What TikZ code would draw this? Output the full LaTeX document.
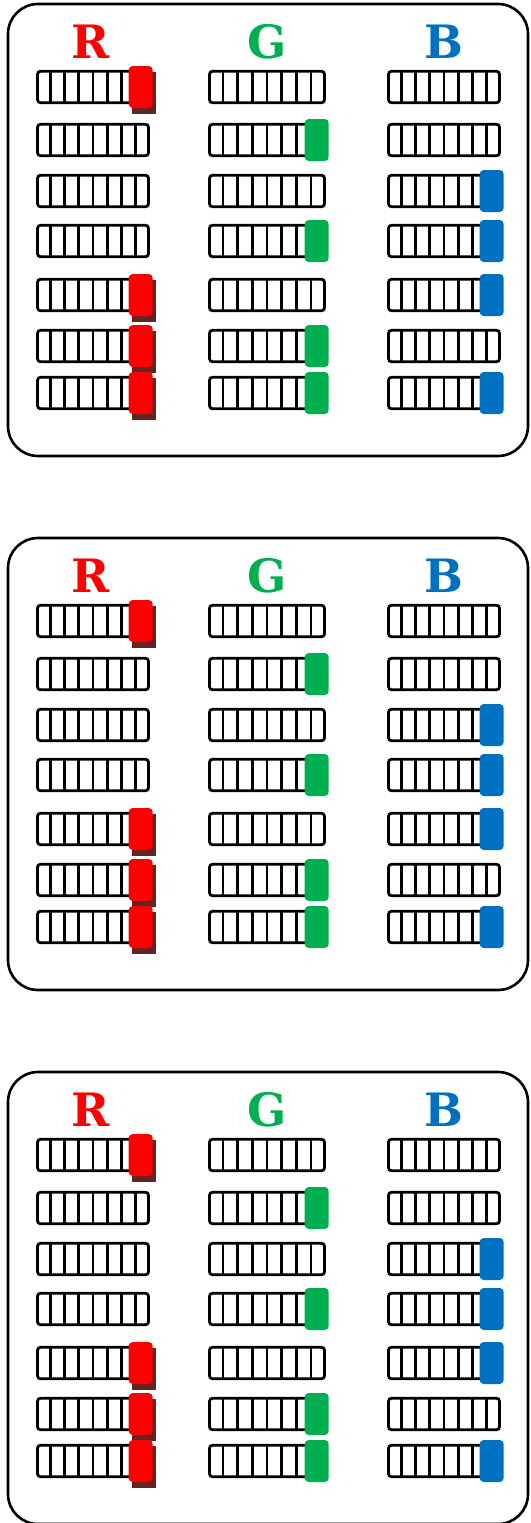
\documentclass[tikz,border=0pt]{standalone}
\usepackage{fontspec}
\usepackage{xcolor}
\usepackage{tikz}
\usetikzlibrary{positioning, calc}
\newfontfamily\capsfont{DejaVu Serif}
\definecolor{knobred}{RGB}{255, 0, 0}
\definecolor{knobgreen}{RGB}{0, 176, 80}
\definecolor{knobblue}{RGB}{0, 112, 192}
\definecolor{knobshade}{RGB}{99, 37, 35}

\begin{document}
\begin{tikzpicture}[x=1pt, y=-1pt,
			panel/.style={draw=black, line width=2.6pt, rounded corners=30pt},
			slot/.style={draw=black, fill=white, line width=2.8pt, rounded corners=3pt, inner sep=0pt, minimum width=#1, minimum height=31.5pt},
			divider/.style={draw=black, line width=2.6pt},
			knob/.style={fill=#1, rounded corners=4pt, inner sep=0pt, minimum width=24pt, minimum height=42pt},
			knobshadow/.style={fill=knobshade, inner sep=0pt, minimum width=24pt, minimum height=42pt},
			letter/.style={font=\capsfont\bfseries\fontsize{46}{46}\selectfont, inner sep=0pt}
			]
			\useasboundingbox (0,0) rectangle (530,1523);
			
			% Three identical panels
			\foreach \p/\dy in {1/0, 2/534, 3/1068} {
				% Frame
				\draw[panel] (8,4+\dy) rectangle (528,456+\dy);
				
				% Channel titles
				\node[letter, text=knobred] (titleR\p) at (91,42+\dy) {R};
				\node[letter, text=knobgreen] (titleG\p) at (267,42+\dy) {G};
				\node[letter, text=knobblue] (titleB\p) at (444,42+\dy) {B};
				
				% Slots
				\foreach \r/\yc in {1/87, 2/140, 3/191, 4/241, 5/295, 6/346, 7/393} {
					\foreach \c/\cx/\w in {r/93/111, g/267/115, b/444/111} {
						\node[slot=\w] (slot\c\p\r) at (\cx,\yc+\dy) {};
						\foreach \k in {1,...,7}
							\draw[divider] ($(slot\c\p\r.north west)!\k/8!(slot\c\p\r.north east)$) -- ($(slot\c\p\r.south west)!\k/8!(slot\c\p\r.south east)$);
					}
				}
				
				% Knobs R (with shadow)
				\foreach \r in {1,5,6,7} {
					\node[knobshadow, anchor=east] (shader\p\r) at ($(slotr\p\r.east)+(6,6)$) {};
					\node[knob=knobred, anchor=east] (knobr\p\r) at ($(slotr\p\r.east)+(3,0)$) {};
				}
				
				% Knobs G
				\foreach \r in {2,4,6,7}
					\node[knob=knobgreen, anchor=east] (knobg\p\r) at ($(slotg\p\r.east)+(3,0)$) {};
				
				% Knobs B
				\foreach \r in {3,4,5,7}
					\node[knob=knobblue, anchor=east] (knobb\p\r) at ($(slotb\p\r.east)+(3,0)$) {};
			}
		\end{tikzpicture}
\end{document}
